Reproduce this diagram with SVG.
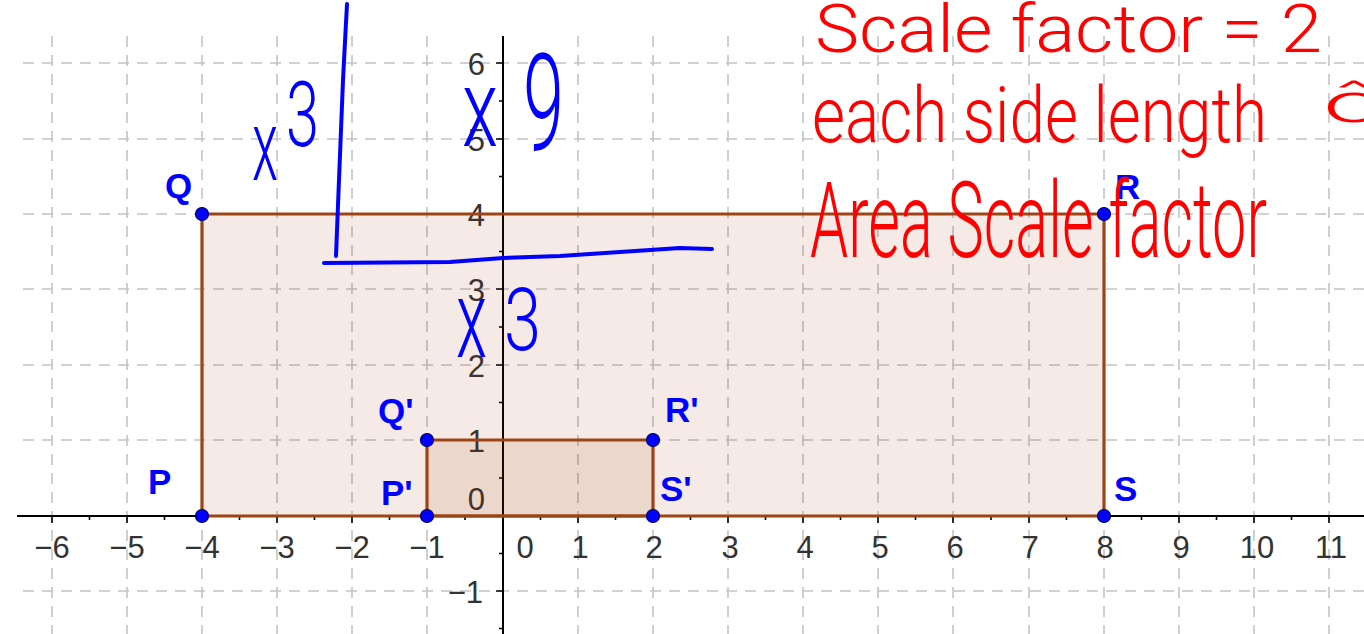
<svg xmlns="http://www.w3.org/2000/svg" width="1364" height="634" viewBox="0 0 1364 634">
<defs>
<style>
.grid{stroke:#c4c4c4;stroke-width:1.6;stroke-dasharray:11 8;fill:none}
.axis{stroke:#000;stroke-width:2;fill:none}
.tick{stroke:#000;stroke-width:1.6;fill:none}
.num{font-family:"Liberation Sans",Arial,sans-serif;font-size:31px;fill:#333}
.poly{fill:#993300;fill-opacity:0.1;stroke:#9c4416;stroke-width:3.2;stroke-linejoin:miter}
.pt{fill:#0000ff;stroke:#00005a;stroke-width:1.2}
.lbl{font-family:"Liberation Sans",Arial,sans-serif;font-weight:bold;font-size:35px;fill:#0000ff}
.hr{font-family:Roboto,"Liberation Sans",sans-serif;font-weight:300;fill:#ff0000}
.hb{font-family:Roboto,"Liberation Sans",sans-serif;font-weight:300;fill:#0000ff}
.ink{stroke:#0000ff;stroke-width:4;fill:none;stroke-linecap:round;stroke-linejoin:round}
</style>
</defs>
<rect width="1364" height="634" fill="#fff"/>
<g id="grid">
<path class="grid" d="M52,36V634M127,36V634M202,36V634M277,36V634M352,36V634M427,36V634M578,36V634M653,36V634M728,36V634M803,36V634M878,36V634M953,36V634M1029,36V634M1104,36V634M1179,36V634M1254,36V634M1329,36V634"/>
<path class="grid" d="M23,63H1364M23,139H1364M23,214H1364M23,289H1364M23,365H1364M23,440H1364M23,591H1364"/>
</g>
<g id="axes">
<path class="axis" d="M17,516H1364M503,36V634"/>
<path class="tick" d="M52,516v7M89.5,516v4M127,516v7M164.5,516v4M202,516v7M239.5,516v4M277,516v7M314.5,516v4M352,516v7M389.5,516v4M427,516v7M465,516v4M540.5,516v4M578,516v7M615.5,516v4M653,516v7M690.5,516v4M728,516v7M765.5,516v4M803,516v7M840.5,516v4M878,516v7M915.5,516v4M953,516v7M991,516v4M1029,516v7M1066.5,516v4M1104,516v7M1141.5,516v4M1179,516v7M1216.5,516v4M1254,516v7M1291.5,516v4M1329,516v7"/>
<path class="tick" d="M503,63h-7M503,101h-4M503,139h-7M503,176.5h-4M503,214h-7M503,251.5h-4M503,289h-7M503,327h-4M503,365h-7M503,402.5h-4M503,440h-7M503,478h-4M503,553.5h-4M503,591h-7M503,628.5h-4"/>
<g class="num" text-anchor="middle">
<text x="52" y="558">−6</text><text x="127" y="558">−5</text><text x="202" y="558">−4</text><text x="277" y="558">−3</text><text x="352" y="558">−2</text><text x="427" y="558">−1</text>
<text x="525" y="558">0</text><text x="580" y="558">1</text><text x="654" y="558">2</text><text x="730" y="558">3</text><text x="805" y="558">4</text><text x="880" y="558">5</text><text x="955" y="558">6</text><text x="1030" y="558">7</text><text x="1105" y="558">8</text><text x="1181" y="558">9</text><text x="1257" y="558">10</text><text x="1331" y="558">11</text>
</g>
<g class="num" text-anchor="end">
<text x="485" y="75">6</text><text x="485" y="151">5</text><text x="485" y="226">4</text><text x="485" y="301">3</text><text x="485" y="377">2</text><text x="485" y="452">1</text><text x="485" y="510">0</text><text x="483" y="603">−1</text>
</g>
</g>
<g id="connectors">
<path id="PQRS" class="poly" d="M202,516V214H1104V516Z"/>
<path id="PQRS-image" class="poly" d="M427,516V440H653V516Z"/>
</g>
<g id="node-P"><circle class="pt" cx="202" cy="516" r="6.5"/><text class="lbl" x="148" y="494">P</text></g>
<g id="node-Q"><circle class="pt" cx="202" cy="214" r="6.5"/><text class="lbl" x="165" y="198">Q</text></g>
<g id="node-R"><circle class="pt" cx="1104" cy="214" r="6.5"/><text class="lbl" x="1115" y="199">R</text></g>
<g id="node-S"><circle class="pt" cx="1104" cy="516" r="6.5"/><text class="lbl" x="1114" y="501">S</text></g>
<g id="node-P1"><circle class="pt" cx="427" cy="516" r="6.5"/><text class="lbl" x="381" y="505">P'</text></g>
<g id="node-Q1"><circle class="pt" cx="427" cy="440" r="6.5"/><text class="lbl" x="378" y="423">Q'</text></g>
<g id="node-R1"><circle class="pt" cx="653" cy="440" r="6.5"/><text class="lbl" x="665" y="422">R'</text></g>
<g id="node-S1"><circle class="pt" cx="653" cy="516" r="6.5"/><text class="lbl" x="660" y="501">S'</text></g>
<g id="annotations">
<path class="ink" d="M347,4L343,80L339,180L336,256"/>
<path class="ink" d="M324,263L450,262L503,258L560,256L620,252L680,248L712,249"/>
<text class="hb"><tspan x="252" y="180" font-size="100" textLength="26" lengthAdjust="spacingAndGlyphs">x</tspan><tspan x="286" y="146" font-size="90" textLength="33" lengthAdjust="spacingAndGlyphs">3</tspan></text>
<text class="hb"><tspan x="462" y="146" font-size="110" textLength="36" lengthAdjust="spacingAndGlyphs">x</tspan><tspan x="523" y="150" font-size="135" textLength="41" lengthAdjust="spacingAndGlyphs">9</tspan></text>
<text class="hb"><tspan x="456" y="357" font-size="110" textLength="31" lengthAdjust="spacingAndGlyphs">x</tspan><tspan x="504" y="350" font-size="88" textLength="37" lengthAdjust="spacingAndGlyphs">3</tspan></text>
<text class="hr" x="815" y="52" font-size="66" textLength="507" lengthAdjust="spacingAndGlyphs">Scale factor = 2</text>
<text class="hr" x="812" y="142" font-size="78" textLength="455" lengthAdjust="spacingAndGlyphs">each side length</text>
<text class="hr" x="1323" y="122" font-size="56" textLength="62" lengthAdjust="spacingAndGlyphs">ô</text>
<text class="hr" x="810" y="257" font-size="105" textLength="457" lengthAdjust="spacingAndGlyphs">Area Scale factor</text>
</g>
</svg>
